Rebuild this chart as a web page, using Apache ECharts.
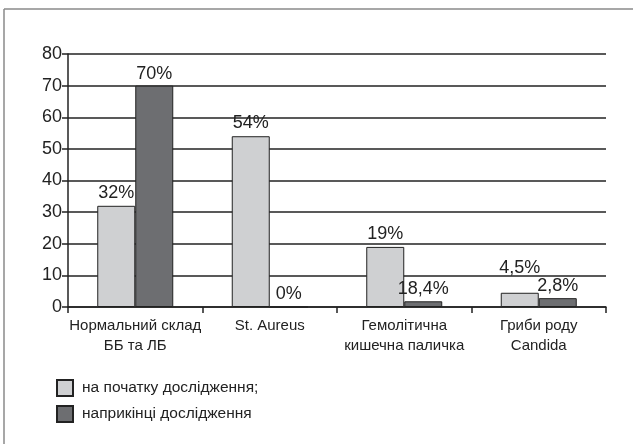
<!DOCTYPE html>
<html>
<head>
<meta charset="utf-8">
<script src="https://cdn.jsdelivr.net/npm/echarts@6/dist/echarts.min.js"></script>
<style>
    html, body { margin: 0; padding: 0; background: #fff; }
    #container { width: 633px; height: 444px; }
</style>
</head>
<body>
<div id="container"></div>
<script>
// категорії та значення
var categories = ['Нормальний склад\nББ та ЛБ', 'St. Aureus', 'Гемолітична\nкишечна паличка', 'Гриби роду\nCandida'];
var startValues = [32, 54, 19, 4.5];
var endValues = [70, 0, 1.8, 2.8];
var startLabels = ['32%', '54%', '19%', '4,5%'];
var endLabels = ['70%', '0%', '18,4%', '2,8%'];
var seriesNames = ['на початку дослідження;', 'наприкінці дослідження'];
var yTicks = [0, 10, 20, 30, 40, 50, 60, 70, 80];

var font = 'Liberation Sans, Arial, sans-serif';

function makeData(values, labels, raised) {
    var arr = [];
    for (var i = 0; i < values.length; i++) {
        var item = {value: values[i], label: {formatter: labels[i]}};
        if (raised && raised[i]) {
            item.label.distance = raised[i];
        }
        arr.push(item);
    }
    return arr;
}

var myChart = echarts.init(document.getElementById('container'));
var option = {
    animation: false,
    backgroundColor: '#fff',
    graphic: [
        {type: 'line', shape: {x1: 4, y1: 9, x2: 633, y2: 9}, style: {stroke: '#8a8a8a', lineWidth: 1.5}},
        {type: 'line', shape: {x1: 4, y1: 9, x2: 4, y2: 444}, style: {stroke: '#8a8a8a', lineWidth: 1.5}}
    ],
    grid: {left: 68, right: 27, top: 54, bottom: 137},
    legend: {
        orient: 'vertical',
        left: 51,
        top: 374,
        icon: 'rect',
        itemWidth: 16,
        itemHeight: 16,
        itemGap: 8,
        textStyle: {fontFamily: font, fontSize: 15.5, color: '#222', padding: [0, 0, 0, 4]},
        data: seriesNames
    },
    xAxis: {
        type: 'category',
        data: categories,
        axisLine: {lineStyle: {color: '#222', width: 1.5}},
        axisTick: {show: true, length: 6, lineStyle: {color: '#222', width: 1.5}},
        axisLabel: {interval: 0, fontFamily: font, fontSize: 15, color: '#222', lineHeight: 20, margin: 9}
    },
    yAxis: {
        type: 'value',
        min: yTicks[0],
        max: yTicks[yTicks.length - 1],
        interval: 10,
        axisLine: {show: true, lineStyle: {color: '#222', width: 1.5}},
        axisTick: {show: true, length: 6, lineStyle: {color: '#222', width: 1.5}},
        axisLabel: {fontFamily: font, fontSize: 18, color: '#222', margin: 6},
        splitLine: {lineStyle: {color: '#222', width: 1.5}}
    },
    series: [
        {
            name: seriesNames[0],
            type: 'bar',
            barWidth: 38,
            barGap: '0%',
            itemStyle: {color: '#cfd0d2', borderColor: '#222', borderWidth: 1},
            label: {show: true, position: 'top', distance: 4, fontFamily: font, fontSize: 18, color: '#222'},
            data: makeData(startValues, startLabels, [0, 0, 0, 16])
        },
        {
            name: seriesNames[1],
            type: 'bar',
            barWidth: 38,
            itemStyle: {color: '#6d6e71', borderColor: '#222', borderWidth: 1},
            label: {show: true, position: 'top', distance: 3, fontFamily: font, fontSize: 18, color: '#222'},
            data: makeData(endValues, endLabels)
        }
    ]
};
myChart.setOption(option);
</script>
</body>
</html>
